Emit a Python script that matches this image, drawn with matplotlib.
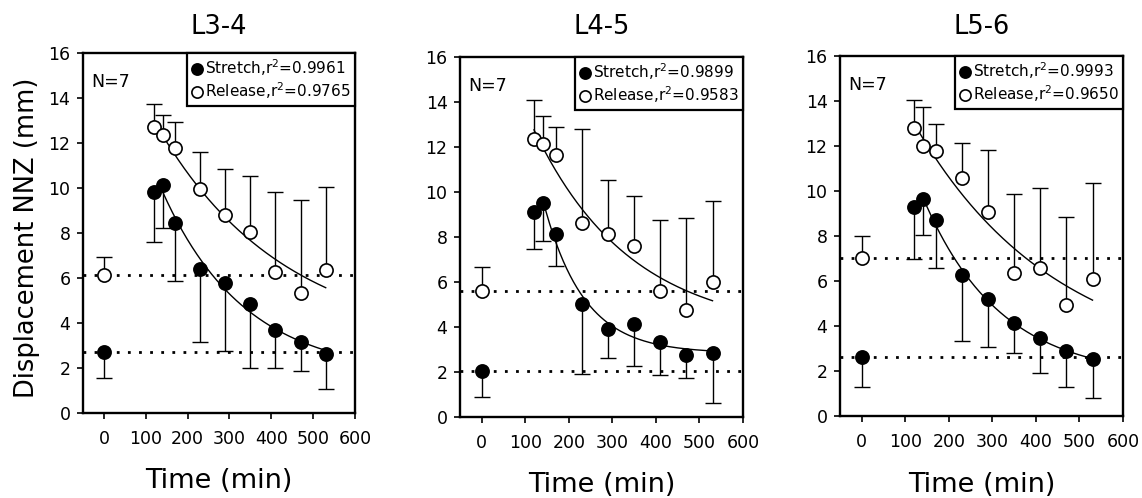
import numpy as np
import matplotlib
matplotlib.use("Agg")
import matplotlib.pyplot as plt

plt.rcParams["font.family"] = ["DejaVu Sans"]
plt.rcParams["mathtext.fontset"] = "dejavusans"

TIME = [0, 120, 140, 170, 230, 290, 350, 410, 470, 530]

SEGMENTS = ["L3-4", "L4-5", "L5-6"]

# mean displacement (mm) and the end of the one-sided SD bar
STRETCH_L34 = [2.72, 9.80, 10.14, 8.43, 6.38, 5.76, 4.84, 3.68, 3.16, 2.64]
STRETCH_L34_LO = [1.56, 7.61, 8.21, 5.86, 3.16, 2.75, 2.00, 2.00, 1.85, 1.05]
RELEASE_L34 = [6.13, 12.73, 12.36, 11.77, 9.94, 8.80, 8.06, 6.28, 5.34, 6.35]
RELEASE_L34_HI = [6.92, 13.73, 13.25, 12.93, 11.59, 10.83, 10.55, 9.81, 9.47, 10.06]

STRETCH_L45 = [2.04, 9.11, 9.53, 8.15, 5.01, 3.93, 4.15, 3.33, 2.77, 2.84]
STRETCH_L45_LO = [0.89, 7.48, 7.82, 6.71, 1.90, 2.62, 2.27, 1.85, 1.73, 0.62]
RELEASE_L45 = [5.60, 12.37, 12.12, 11.63, 8.62, 8.15, 7.59, 5.59, 4.74, 6.00]
RELEASE_L45_HI = [6.67, 14.07, 13.36, 12.89, 12.81, 10.52, 9.82, 8.74, 8.86, 9.60]

STRETCH_L56 = [2.64, 9.30, 9.64, 8.71, 6.27, 5.19, 4.12, 3.48, 2.89, 2.52]
STRETCH_L56_LO = [1.30, 6.96, 8.04, 6.59, 3.35, 3.05, 2.79, 1.90, 1.30, 0.79]
RELEASE_L56 = [7.04, 12.79, 12.00, 11.78, 10.56, 9.08, 6.34, 6.56, 4.93, 6.07]
RELEASE_L56_HI = [8.00, 14.04, 13.72, 12.98, 12.15, 11.82, 9.87, 10.12, 8.86, 10.34]

R2_STRETCH = ["0.9961", "0.9899", "0.9993"]
R2_RELEASE = ["0.9765", "0.9583", "0.9650"]

PANELS = [
    (STRETCH_L34, STRETCH_L34_LO, RELEASE_L34, RELEASE_L34_HI),
    (STRETCH_L45, STRETCH_L45_LO, RELEASE_L45, RELEASE_L45_HI),
    (STRETCH_L56, STRETCH_L56_LO, RELEASE_L56, RELEASE_L56_HI),
]

W, H = 1142, 498
# axes boxes in pixels: left, right, top, bottom
BOXES = [(83, 355, 53, 413), (460, 743, 57, 417), (840, 1123, 56, 416)]
TITLE_Y = [27, 27, 27]
XLABEL_Y = [481, 485, 485]


def fit_decay(t, y):
    """Least-squares fit of y = c + a*exp(-k*(t - t0)); grid over k."""
    t = np.asarray(t, float)
    y = np.asarray(y, float)
    dt = t - t[0]
    best = None
    for k in np.linspace(0.0005, 0.05, 2000):
        A = np.column_stack([np.ones_like(dt), np.exp(-k * dt)])
        coef, *_ = np.linalg.lstsq(A, y, rcond=None)
        sse = np.sum((A @ coef - y) ** 2)
        if best is None or sse < best[0]:
            best = (sse, k, coef)
    _, k, (c, a) = best
    tt = np.linspace(t[0], t[-1], 200)
    return tt, c + a * np.exp(-k * (tt - t[0]))


def one_sided_bars(ax, t, ends, y):
    ax.vlines(t, ends, y, color="black", lw=1.0, zorder=2)
    ax.plot(t, ends, ls="none", marker="_", ms=11, mew=1.0, color="black", zorder=2)


fig = plt.figure(figsize=(W / 100, H / 100), dpi=100)
t = np.array(TIME)

for i, (box, (st, st_lo, rel, rel_hi)) in enumerate(zip(BOXES, PANELS)):
    l, r, top, b = box
    ax = fig.add_axes([l / W, 1 - b / H, (r - l) / W, (b - top) / H])
    st, st_lo, rel, rel_hi = map(np.array, (st, st_lo, rel, rel_hi))

    # pre-stretch baselines
    ax.axhline(st[0], color="black", lw=2, ls=(0, (1, 3)), zorder=1)
    ax.axhline(rel[0], color="black", lw=2, ls=(0, (1, 3)), zorder=1)

    one_sided_bars(ax, t, st_lo, st)
    one_sided_bars(ax, t, rel_hi, rel)

    tt, yy = fit_decay(t[2:], st[2:])
    ax.plot(tt, yy, color="black", lw=1.0, zorder=3)
    tt, yy = fit_decay(t[1:], rel[1:])
    ax.plot(tt, yy, color="black", lw=1.0, zorder=3)

    h1, = ax.plot(t, st, ls="none", marker="o", ms=9.5, mfc="black", mec="black",
                  mew=1.2, zorder=4, label=rf"Stretch,r$^2$={R2_STRETCH[i]}")
    h2, = ax.plot(t, rel, ls="none", marker="o", ms=9.5, mfc="white", mec="black",
                  mew=1.2, zorder=4, label=rf"Release,r$^2$={R2_RELEASE[i]}")

    leg = ax.legend(handles=[h1, h2], loc="upper right", borderaxespad=0,
                    fontsize=11, handlelength=0.7, handletextpad=0.15,
                    borderpad=0.3, labelspacing=0.15, fancybox=False,
                    framealpha=1, markerscale=0.85)
    leg.get_frame().set_edgecolor("black")
    leg.get_frame().set_linewidth(1.6)

    ax.text(0.03, 0.92, "N=7", transform=ax.transAxes, fontsize=12.5,
            ha="left", va="center")

    ax.set_xlim(-50, 600)
    ax.set_ylim(0, 16)
    ax.set_xticks(range(0, 601, 100))
    ax.set_yticks(range(0, 17, 2))
    ax.tick_params(axis="both", direction="out", length=4, width=1.2,
                   labelsize=12.5, colors="black")
    ax.tick_params(axis="x", pad=8)
    ax.tick_params(axis="y", pad=5)
    for sp in ax.spines.values():
        sp.set_linewidth(1.7)

    title_y = 1 + (top - TITLE_Y[i]) / (b - top)
    ax.text(0.5, title_y, SEGMENTS[i], transform=ax.transAxes, fontsize=18.5,
            ha="center", va="center")
    fig.text((l + r) / 2 / W, 1 - XLABEL_Y[i] / H, "Time (min)", fontsize=19.5,
             ha="center", va="center")

fig.text(27 / W, 1 - 238 / H, "Displacement NNZ (mm)", fontsize=18.5,
         rotation=90, ha="center", va="center")

fig.savefig("out.png", dpi=100, facecolor="white")
